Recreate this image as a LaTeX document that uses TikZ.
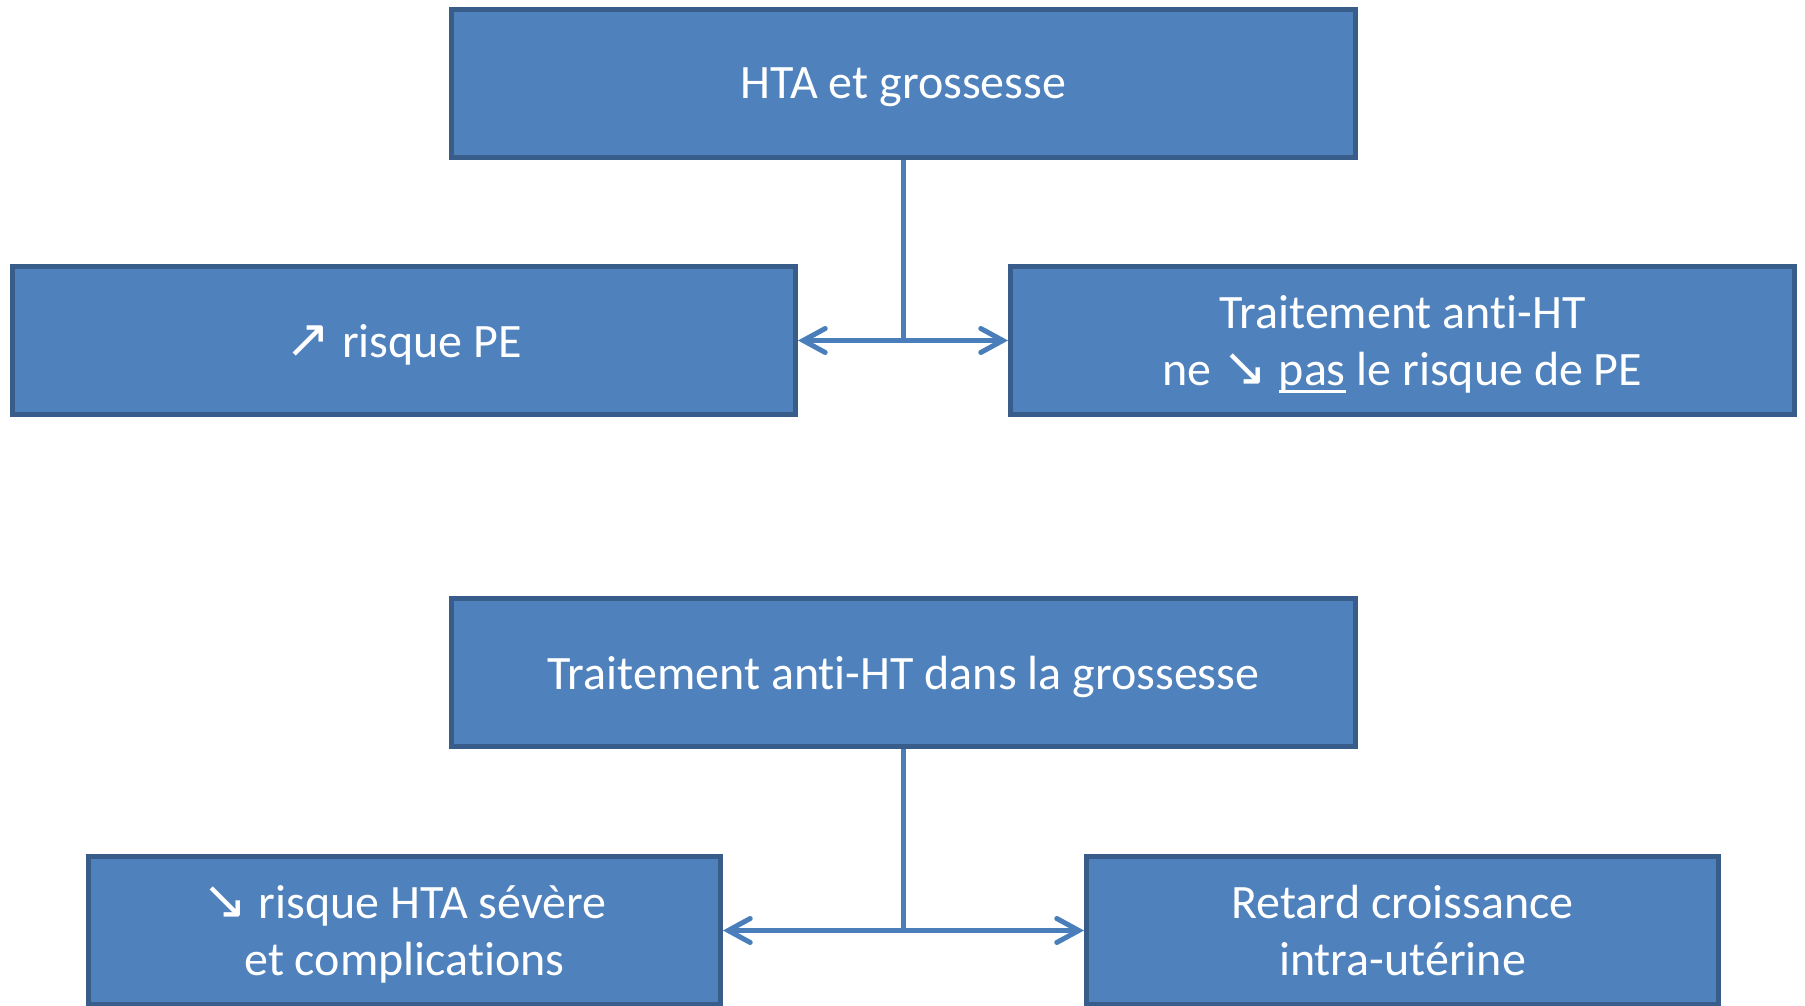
\documentclass[tikz,border=0pt]{standalone}
\usepackage{fontspec}
\setmainfont[Ligatures=NoCommon]{Carlito}
\newfontfamily\symfont{DejaVu Sans}
\definecolor{boxblue}{HTML}{4F81BD}
\definecolor{boxedge}{HTML}{385D8A}
\definecolor{linkblue}{HTML}{4A7EBB}
\usetikzlibrary{positioning, arrows.meta}
\newcommand{\arr}[1]{{\symfont\fontsize{27}{28.2}\selectfont #1}}
\newcommand{\thickul}[1]{{\setbox0\hbox{#1}\rlap{\rule[-4pt]{\wd0}{1.4pt}}\box0}}
\tikzset{
	box/.style = {draw = boxedge, fill = boxblue, line width = 2.5pt, text = white, align = center, minimum height = 74pt, inner sep = 0pt, text depth = 0pt, font = \fontsize{24}{28.2}\selectfont},
	link/.style = {draw = linkblue, line width = 2.5pt},
	biarrow/.style = {link, {Straight Barb[length=11pt, width=12pt, line cap=round]}-{Straight Barb[length=11pt, width=12pt, line cap=round]}}
}
\begin{document}
\begin{tikzpicture}[x=0.5pt, y=-0.5pt]
		\useasboundingbox (0,0) rectangle (1805,1006);
		% upper diagram
		\node[box, minimum width = 452pt] (hta) at (903.5,83.5) {HTA et grossesse};
		\node[box, minimum width = 391.5pt] (risk_pe) at (404,340.5) {\arr{↗} risque PE};
		\node[box, minimum width = 392pt] (trt_pe) at (1402.5,340.5) {Traitement anti-HT\\ne \arr{↘} \thickul{pas} le risque de PE};
		\coordinate (j_hta) at (hta.south |- risk_pe.east);
		\draw[link] (hta.south) -- (j_hta);
		\draw[biarrow] (risk_pe.east) -- (trt_pe.west);
		% lower diagram
		\node[box, minimum width = 452pt] (trt) at (903.5,672.5) {Traitement anti-HT dans la grossesse};
		\node[box, minimum width = 316pt] (risk_hta) at (404.5,930.5) {\arr{↘} risque HTA sévère\\et complications};
		\node[box, minimum width = 316pt] (rciu) at (1402.5,930.5) {Retard croissance\\intra-utérine};
		\coordinate (j_trt) at (trt.south |- risk_hta.east);
		\draw[link] (trt.south) -- (j_trt);
		\draw[biarrow] (risk_hta.east) -- (rciu.west);
	\end{tikzpicture}
\end{document}
